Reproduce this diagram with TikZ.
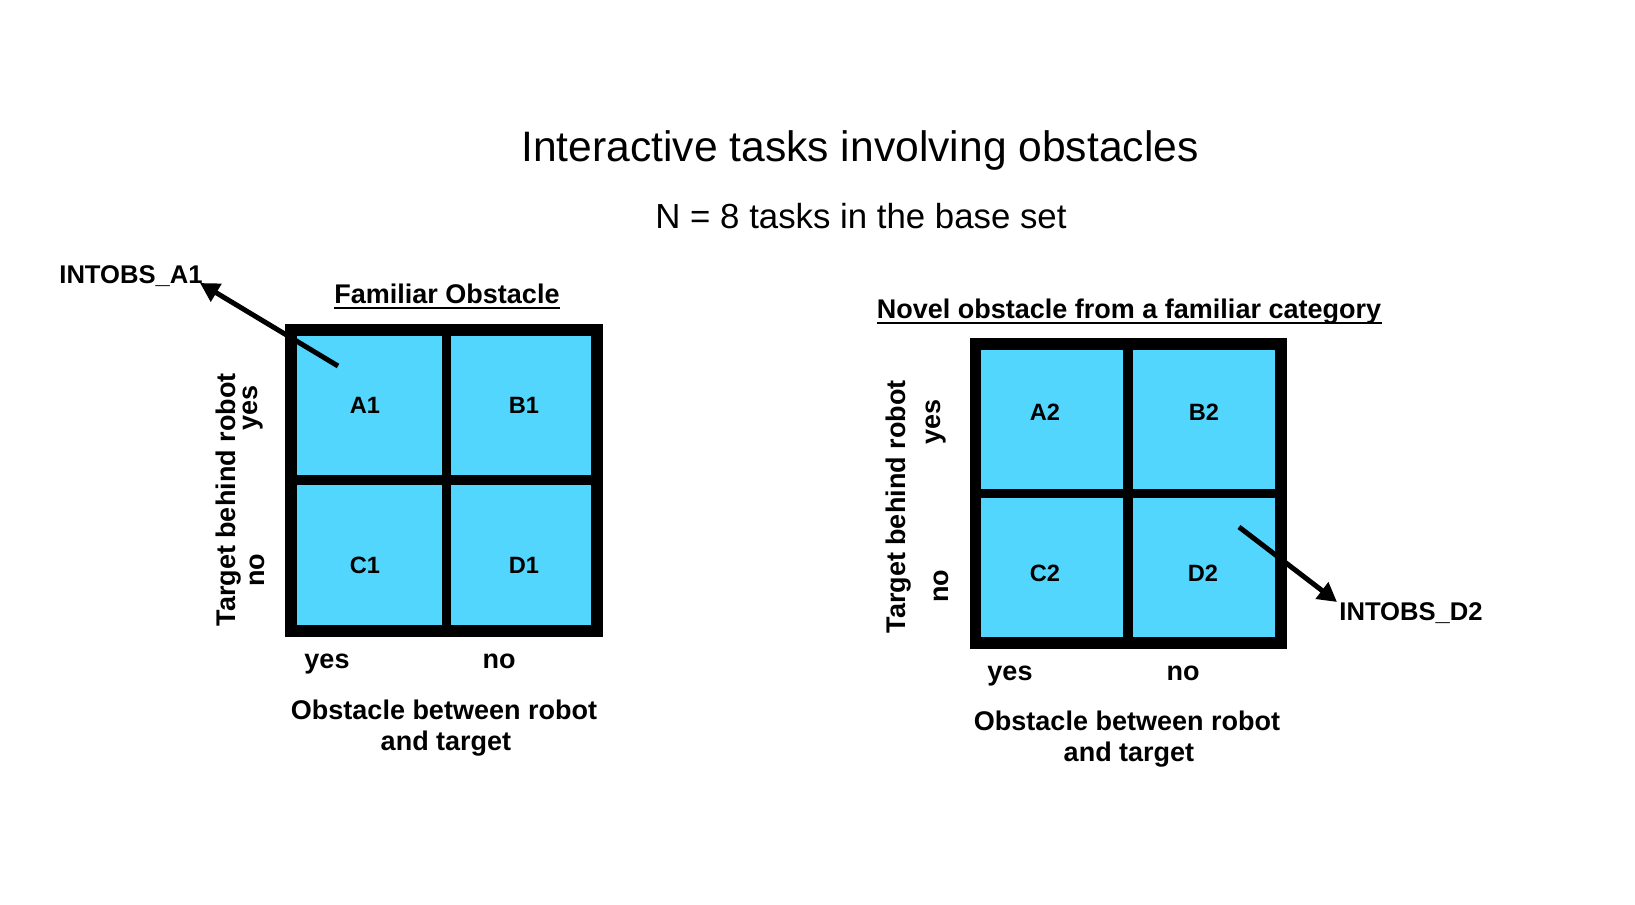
\documentclass[tikz,border=0pt]{standalone}
\usepackage{fontspec}
\setmainfont{Liberation Sans}
\usetikzlibrary{arrows.meta}
\definecolor{cellblue}{RGB}{83,214,253}
\begin{document}
\begin{tikzpicture}[x=0.5pt,y=-0.5pt,
  txt/.style={inner sep=0pt, anchor=base, text=black},
  titletxt/.style={txt, font=\fontsize{21.3}{25}\selectfont},
  subtxt/.style={txt, font=\fontsize{17.4}{21}\selectfont},
  lab/.style={txt, font=\fontsize{13.5}{15.5}\selectfont\bfseries},
  celllab/.style={txt, font=\fontsize{11.8}{14}\selectfont\bfseries},
  tag/.style={txt, font=\fontsize{12.8}{15}\selectfont\bfseries},
  vlab/.style={lab, rotate=90},
  frame/.style={fill=black},
  cellfill/.style={fill=cellblue},
  pointer/.style={line width=2.5pt, -{Triangle[length=9.5pt,width=10pt]}},
  uline/.style={line width=1.2pt}
]
\useasboundingbox (0,0) rectangle (1635,905);
\fill[white] (0,0) rectangle (1635,905);

% titles
\node[titletxt] (title) at (860,161) {Interactive tasks involving obstacles};
\node[subtxt] (subtitle) at (861,228) {N = 8 tasks in the base set};

% ---------- left matrix ----------
\node[lab] (fam) at (447,303) {Familiar Obstacle};
\draw[uline] ([yshift=-2.5pt]fam.base west) -- ([yshift=-2.5pt]fam.base east);

\fill[frame] (285,324) rectangle (603,637);
\fill[cellfill] (297,336) rectangle (442,475);
\fill[cellfill] (451,336) rectangle (591,475);
\fill[cellfill] (297,485) rectangle (442,625);
\fill[cellfill] (451,485) rectangle (591,625);

\node[celllab] (A1) at (365,413) {A1};
\node[celllab] (B1) at (524,413) {B1};
\node[celllab] (C1) at (365,573) {C1};
\node[celllab] (D1) at (524,573) {D1};

\node[vlab] (tb1) at (235,500) {Target behind robot};
\node[vlab] (yesL1) at (257,408) {yes};
\node[vlab] (noL1) at (264,570) {no};

\node[lab] (yesB1) at (327,668) {yes};
\node[lab] (noB1) at (499,668) {no};
\node[lab] (ob1a) at (444,719) {Obstacle between robot};
\node[lab] (ob1b) at (446,750) {and target};

\node[tag] (tagA1) at (131,283) {INTOBS\_A1};
\coordinate (a1s) at (338,366);
\coordinate (a1t) at (200,283);
\draw[pointer] (a1s) -- (a1t);

% ---------- right matrix ----------
\node[lab] (nov) at (1129,318) {Novel obstacle from a familiar category};
\draw[uline] ([yshift=-2.5pt]nov.base west) -- ([yshift=-2.5pt]nov.base east);

\fill[frame] (970,338) rectangle (1287,649);
\fill[cellfill] (981,350) rectangle (1123,489);
\fill[cellfill] (1133,350) rectangle (1275,489);
\fill[cellfill] (981,498) rectangle (1123,637);
\fill[cellfill] (1133,498) rectangle (1275,637);

\node[celllab] (A2) at (1045,420) {A2};
\node[celllab] (B2) at (1204,420) {B2};
\node[celllab] (C2) at (1045,581) {C2};
\node[celllab] (D2) at (1203,581) {D2};

\node[vlab] (tb2) at (905,507) {Target behind robot};
\node[vlab] (yesL2) at (940,422) {yes};
\node[vlab] (noL2) at (948,586) {no};

\node[lab] (yesB2) at (1010,680) {yes};
\node[lab] (noB2) at (1183,680) {no};
\node[lab] (ob2a) at (1127,730) {Obstacle between robot};
\node[lab] (ob2b) at (1129,761) {and target};

\node[tag] (tagD2) at (1411,620) {INTOBS\_D2};
\coordinate (d2s) at (1239,527);
\coordinate (d2t) at (1337,602);
\draw[pointer] (d2s) -- (d2t);
\end{tikzpicture}
\end{document}
